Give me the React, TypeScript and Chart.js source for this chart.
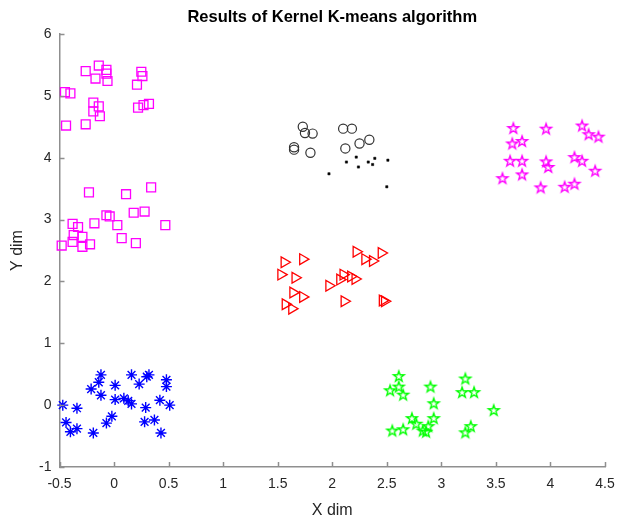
import React, { useEffect, useRef } from 'react';
import { Chart, registerables } from 'chart.js';

Chart.register(...registerables);

const chartTitle = 'Results of Kernel K-means algorithm';
const xAxisTitle = 'X dim';
const yAxisTitle = 'Y dim';
const xMin = -0.5;
const xMax = 4.5;
const xStep = 0.5;
const yMin = -1;
const yMax = 6;
const yStep = 1;

// magenta squares
const squaresX = [-0.26, -0.14, -0.07, -0.07, -0.17, -0.06, 0.25, 0.26, 0.21, -0.45, -0.4, -0.19, -0.14, -0.19, -0.13, 0.22, 0.27, 0.32, -0.44, -0.26,
  -0.23, 0.11, 0.34, -0.38, -0.33, -0.18, -0.07, -0.04, 0.03, 0.18, 0.28, 0.47, -0.37, -0.29, -0.38, -0.29, -0.22, -0.48, 0.07, 0.2];
const squaresY = [5.4, 5.49, 5.42, 5.36, 5.28, 5.24, 5.39, 5.32, 5.18, 5.06, 5.04, 4.89, 4.83, 4.75, 4.67, 4.81, 4.85, 4.87, 4.52, 4.54,
  3.44, 3.41, 3.52, 2.93, 2.88, 2.94, 3.07, 3.05, 2.91, 3.11, 3.13, 2.91, 2.75, 2.72, 2.64, 2.56, 2.6, 2.58, 2.7, 2.62];

// black circles
const circlesX = [1.73, 1.75, 1.82, 1.65, 1.65, 1.8, 2.1, 2.18, 2.25, 2.34, 2.12];
const circlesY = [4.5, 4.4, 4.39, 4.17, 4.13, 4.08, 4.47, 4.47, 4.23, 4.29, 4.15];

// black dots
const dotsX = [2.13, 2.22, 2.24, 2.33, 2.37, 2.39, 2.51, 1.97, 2.5];
const dotsY = [3.93, 4.01, 3.85, 3.93, 3.89, 3.99, 3.96, 3.74, 3.53];

// red right-pointing triangles
const trianglesX = [1.56, 1.73, 1.53, 1.66, 1.64, 1.73, 1.57, 1.63, 2.22, 2.3, 2.37, 2.45, 1.97, 2.07, 2.1, 2.17, 2.21, 2.11, 2.46, 2.48];
const trianglesY = [2.31, 2.36, 2.11, 2.06, 1.82, 1.75, 1.63, 1.56, 2.48, 2.36, 2.33, 2.46, 1.93, 2.03, 2.11, 2.08, 2.04, 1.68, 1.69, 1.68];

// blue asterisks
const asterisksX = [-0.12, -0.14, -0.21, -0.12, 0.01, 0.16, 0.23, 0.3, 0.32, 0.48, 0.48, 0.01, 0.09, 0.13, 0.16, 0.42, 0.51, 0.29, -0.47, -0.34,
  -0.44, -0.34, -0.4, -0.19, -0.02, -0.07, 0.28, 0.37, 0.43];
const asterisksY = [0.49, 0.37, 0.26, 0.16, 0.32, 0.49, 0.34, 0.46, 0.49, 0.41, 0.3, 0.09, 0.11, 0.07, 0.02, 0.08, 0.0, -0.04, 0.0, -0.05,
  -0.28, -0.38, -0.43, -0.45, -0.18, -0.29, -0.27, -0.24, -0.45];

// green pentagrams
const greenStarsX = [2.61, 2.53, 2.61, 2.65, 2.9, 2.93, 2.73, 2.77, 2.93, 2.88, 2.83, 2.86, 2.55, 2.65, 3.22, 3.19, 3.3, 3.48, 3.27, 3.22];
const greenStarsY = [0.47, 0.24, 0.3, 0.17, 0.3, 0.03, -0.21, -0.3, -0.21, -0.34, -0.41, -0.43, -0.41, -0.39, 0.43, 0.21, 0.21, -0.08, -0.34, -0.44];

// magenta pentagrams
const pinkStarsX = [3.66, 3.96, 4.29, 4.35, 4.44, 3.65, 3.74, 3.63, 3.74, 3.96, 3.98, 4.22, 4.29, 4.41, 3.56, 3.74, 3.91, 4.13, 4.22];
const pinkStarsY = [4.48, 4.47, 4.52, 4.38, 4.34, 4.23, 4.27, 3.95, 3.95, 3.94, 3.85, 4.01, 3.95, 3.79, 3.67, 3.73, 3.52, 3.53, 3.58];

const FONT = "'Liberation Sans', Arial, Helvetica, sans-serif";
const AXIS_COLOR = '#8f8f8f';
const TEXT_COLOR = '#262626';

function toPoints(xs: number[], ys: number[]) {
  return xs.map((x, i) => ({ x, y: ys[i] }));
}

function makePentagram(color: string): HTMLCanvasElement {
  const c = document.createElement('canvas');
  const size = 16;
  c.width = size;
  c.height = size;
  const ctx = c.getContext('2d')!;
  const cx = size / 2;
  const cy = size / 2 + 0.5;
  const R = 5.6;
  const r = R * 0.40;
  ctx.beginPath();
  for (let i = 0; i < 10; i++) {
    const ang = -Math.PI / 2 + (i * Math.PI) / 5;
    const rad = i % 2 === 0 ? R : r;
    const px = cx + rad * Math.cos(ang);
    const py = cy + rad * Math.sin(ang);
    if (i === 0) ctx.moveTo(px, py);
    else ctx.lineTo(px, py);
  }
  ctx.closePath();
  ctx.strokeStyle = color;
  ctx.lineWidth = 1.4;
  ctx.lineJoin = 'miter';
  ctx.stroke();
  return c;
}

const inwardTicks = {
  id: 'inwardTicks',
  afterDatasetsDraw(chart: any) {
    const { ctx, chartArea, scales } = chart;
    ctx.save();
    ctx.strokeStyle = AXIS_COLOR;
    ctx.lineWidth = 1.5;
    const len = 5;
    const xs = scales.x;
    xs.ticks.forEach((t: any) => {
      const px = Math.round(xs.getPixelForValue(t.value)) + 0.5;
      ctx.beginPath();
      ctx.moveTo(px, chartArea.bottom);
      ctx.lineTo(px, chartArea.bottom - len);
      ctx.stroke();
    });
    const ys = scales.y;
    ys.ticks.forEach((t: any) => {
      const py = Math.round(ys.getPixelForValue(t.value)) + 0.5;
      ctx.beginPath();
      ctx.moveTo(chartArea.left, py);
      ctx.lineTo(chartArea.left + len, py);
      ctx.stroke();
    });
    ctx.restore();
  },
};

export default function App() {
  const canvasRef = useRef<HTMLCanvasElement | null>(null);

  useEffect(() => {
    if (!canvasRef.current) return;
    const greenStar = makePentagram('#00ff00');
    const pinkStar = makePentagram('#ff00ff');
    const base = { showLine: false, clip: false as any };
    const chart = new Chart(canvasRef.current, {
      type: 'scatter',
      data: {
        datasets: [
          {
            ...base,
            label: 'c1',
            data: toPoints(squaresX, squaresY),
            pointStyle: 'rect',
            pointRadius: 6.3,
            borderColor: '#ff00ff',
            backgroundColor: 'rgba(0,0,0,0)',
            borderWidth: 1.3,
          },
          {
            ...base,
            label: 'c2',
            data: toPoints(circlesX, circlesY),
            pointStyle: 'circle',
            pointRadius: 4.6,
            borderColor: '#333333',
            backgroundColor: 'rgba(0,0,0,0)',
            borderWidth: 1.2,
          },
          {
            ...base,
            label: 'c3',
            data: toPoints(dotsX, dotsY),
            pointStyle: 'rect',
            pointRadius: 1.6,
            borderColor: '#000000',
            backgroundColor: '#000000',
            borderWidth: 0.5,
          },
          {
            ...base,
            label: 'c4',
            data: toPoints(trianglesX, trianglesY),
            pointStyle: 'triangle',
            pointRotation: 90,
            pointRadius: 6.2,
            borderColor: '#ff0000',
            backgroundColor: 'rgba(0,0,0,0)',
            borderWidth: 1.3,
          },
          {
            ...base,
            label: 'c5',
            data: toPoints(asterisksX, asterisksY),
            pointStyle: 'star',
            pointRadius: 5.5,
            borderColor: '#0000ff',
            backgroundColor: '#0000ff',
            borderWidth: 1.4,
          },
          {
            ...base,
            label: 'c6',
            data: toPoints(greenStarsX, greenStarsY),
            pointStyle: greenStar as any,
            pointRadius: 6,
            borderColor: '#00ff00',
            backgroundColor: '#00ff00',
          },
          {
            ...base,
            label: 'c7',
            data: toPoints(pinkStarsX, pinkStarsY),
            pointStyle: pinkStar as any,
            pointRadius: 6,
            borderColor: '#ff00ff',
            backgroundColor: '#ff00ff',
          },
        ] as any,
      },
      options: {
        animation: false,
        responsive: false,
        devicePixelRatio: 1,
        layout: { padding: { left: 0, right: 30, top: 0, bottom: 0 } },
        plugins: {
          legend: { display: false },
          tooltip: { enabled: false },
          title: {
            display: true,
            text: chartTitle,
            fullSize: false,
            color: '#000000',
            font: { family: FONT, size: 16.5, weight: 'bold' },
            padding: { top: 8, bottom: 6.2 },
          },
        },
        scales: {
          x: {
            type: 'linear',
            min: xMin,
            max: xMax,
            afterFit: (s: any) => { s.height = 55; },
            grid: { display: true, drawOnChartArea: false, drawTicks: false },
            border: { display: true, color: AXIS_COLOR, width: 1.5 },
            ticks: {
              stepSize: xStep,
              color: TEXT_COLOR,
              padding: 9,
              font: { family: FONT, size: 14 },
              callback: (v: any) => String(Math.round(Number(v) * 10) / 10),
            },
            title: {
              display: true,
              text: xAxisTitle,
              color: TEXT_COLOR,
              font: { family: FONT, size: 16 },
              padding: { top: 0, bottom: 2 },
            },
          },
          y: {
            type: 'linear',
            min: yMin,
            max: yMax,
            afterFit: (s: any) => { s.width = 59.5; },
            grid: { display: true, drawOnChartArea: false, drawTicks: false },
            border: { display: true, color: AXIS_COLOR, width: 1.5 },
            ticks: {
              stepSize: yStep,
              color: TEXT_COLOR,
              padding: 8,
              font: { family: FONT, size: 14 },
              callback: (v: any) => String(v),
            },
            title: {
              display: true,
              text: yAxisTitle,
              color: TEXT_COLOR,
              font: { family: FONT, size: 16 },
              padding: { top: 8, bottom: 0 },
            },
          },
        },
      },
      plugins: [inwardTicks],
    });
    return () => chart.destroy();
  }, []);

  return (
    <div style={{ position: 'absolute', left: 0, top: 0, width: 635, height: 522, background: '#ffffff' }}>
      <canvas ref={canvasRef} width={635} height={522} style={{ display: 'block', width: 635, height: 522 }} />
    </div>
  );
}
